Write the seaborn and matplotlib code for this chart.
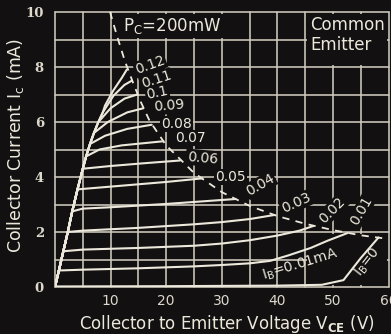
import matplotlib
matplotlib.use("Agg")
import matplotlib.pyplot as plt
import matplotlib.patches as mpatches
import numpy as np
import pandas as pd
import seaborn as sns

# ---------------------------------------------------------------- data
# Base current of each output curve (mA) and its printed tag
ib_values = [0.12, 0.11, 0.10, 0.09, 0.08, 0.07, 0.06, 0.05, 0.04, 0.03, 0.02, 0.01]
ib_tags = ["0.12", "0.11", "0.1", "0.09", "0.08", "0.07", "0.06", "0.05",
           "0.04", "0.03", "0.02", "0.01"]

# Saturation knee shared by all curves (VCE in V, IC in mA)
knee_v = [0, 0.7, 1.5, 2.3, 3.1, 4.05, 5.0, 5.6, 6.3, 7.0, 7.8, 8.6, 9.0]
knee_i = [0, 0.6, 1.3, 2.0, 2.75, 3.55, 4.3, 4.75, 5.2, 5.6, 6.0, 6.35, 6.6]

# VCE at which each curve leaves the knee
branch_v = [9.0, 8.6, 7.8, 7.0, 6.3, 5.6, 5.0, 4.05, 3.1, 2.3, 1.5, 0.7]

# Active-region part of each curve, ending on the dissipation line
ic012_v, ic012_i = [10.5, 12.0, 12.9], [7.15, 7.6, 7.9]
ic011_v, ic011_i = [10.5, 12.5, 13.8], [6.95, 7.35, 7.5]
ic010_v, ic010_i = [10.0, 12.5, 14.8], [6.5, 6.85, 7.0]
ic009_v, ic009_i = [9.5, 13.0, 15.9], [6.0, 6.35, 6.5]
ic008_v, ic008_i = [9.0, 13.0, 17.4], [5.5, 5.75, 5.9]
ic007_v, ic007_i = [8.0, 12.0, 19.5], [5.0, 5.15, 5.3]
ic006_v, ic006_i = [10.0, 16.0, 22.5], [4.4, 4.5, 4.6]
ic005_v, ic005_i = [10.0, 20.0, 26.5], [3.65, 3.82, 3.95]
ic004_v, ic004_i = [5.0, 10.0, 20.0, 32.5], [2.85, 2.9, 3.02, 3.2]
ic003_v, ic003_i = [5.0, 15.0, 25.0, 30.0, 35.0, 39.5], [2.05, 2.15, 2.28, 2.36, 2.47, 2.62]
ic002_v = [5.0, 15.0, 25.0, 30.0, 35.0, 40.0, 44.0, 46.5]
ic002_i = [1.36, 1.42, 1.5, 1.58, 1.7, 1.87, 2.05, 2.22]
ic001_v = [5.0, 15.0, 25.0, 30.0, 35.0, 38.7, 42.0, 46.0, 49.0, 52.6]
ic001_i = [0.63, 0.68, 0.75, 0.8, 0.86, 0.95, 1.15, 1.42, 1.68, 1.96]

# Leakage curve for IB = 0
ib0_v = [0, 20, 40, 48, 51.9, 55.0, 58.2]
ib0_i = [0.02, 0.03, 0.05, 0.08, 0.25, 1.05, 1.8]

# Maximum collector dissipation line
pc_v = [9.9, 11.2, 12.6, 14.0, 15.5, 17.0, 20.0, 25.0, 30.0, 35.0, 40.0, 45.0, 50.0, 55.0, 59.5]
pc_i = [10.0, 9.1, 8.2, 7.45, 6.7, 6.05, 5.15, 4.15, 3.45, 2.95, 2.58, 2.3, 2.07, 1.88, 1.76]

# Tag positions (V, mA) and angles
tag_v = [17.1, 18.2, 18.4, 20.5, 21.8, 24.3, 26.5, 31.5, 36.9, 43.4, 49.9, 55.1]
tag_i = [8.07, 7.53, 7.05, 6.58, 5.93, 5.42, 4.69, 4.0, 3.71, 3.05, 2.8, 2.76]
tag_rot = [20, 18, 12, 5, 0, 0, -5, 0, 30, 25, 45, 60]

x_ticks = [10, 20, 30, 40, 50, 60]
y_ticks = [0, 2, 4, 6, 8, 10]

# ---------------------------------------------------------------- frame
BG = "#121010"
GRID = "#cfcabd"
INK = "#ece8dc"

sns.set_style("dark")
plt.rcParams["font.family"] = ["DejaVu Sans"]
plt.rcParams["mathtext.default"] = "regular"

fig = plt.figure(figsize=(3.91, 3.34), dpi=100, facecolor=BG)
ax = fig.add_axes([55 / 391, 47 / 334, 333.5 / 391, 275 / 334])
ax.set_facecolor(BG)
ax.set_xlim(0, 60)
ax.set_ylim(0, 10)
for s in ax.spines.values():
    s.set_visible(False)
ax.grid(False)

# grid every 5 V and 1 mA
for v in np.arange(0, 61, 5):
    ax.axvline(v, color=GRID, lw=1.15, zorder=1, clip_on=False)
for i in np.arange(0, 11, 1):
    ax.axhline(i, color=GRID, lw=1.15, zorder=1, clip_on=False)

# label panels without grid inside
for (x0, y0, w, h) in [(45.3, 8.06, 14.4, 1.88), (45.3, 0.06, 14.4, 1.88),
                       (10.4, 9.06, 24.2, 0.88)]:
    ax.add_patch(mpatches.Rectangle((x0, y0), w, h, facecolor=BG,
                                    edgecolor="none", zorder=1.5))

# ---------------------------------------------------------------- curves
active = [(ic012_v, ic012_i), (ic011_v, ic011_i), (ic010_v, ic010_i),
          (ic009_v, ic009_i), (ic008_v, ic008_i), (ic007_v, ic007_i),
          (ic006_v, ic006_i), (ic005_v, ic005_i), (ic004_v, ic004_i),
          (ic003_v, ic003_i), (ic002_v, ic002_i), (ic001_v, ic001_i)]
rows = []
for tag, bv, (av, ai) in zip(ib_tags, branch_v, active):
    vs = [v for v in knee_v if v <= bv] + list(av)
    cs = [c for v, c in zip(knee_v, knee_i) if v <= bv] + list(ai)
    for k, (v, c) in enumerate(zip(vs, cs)):
        rows.append({"curve": tag, "order": k, "vce": v, "ic": c})
for k, (v, c) in enumerate(zip(ib0_v, ib0_i)):
    rows.append({"curve": "0", "order": k, "vce": v, "ic": c})
curves = pd.DataFrame(rows)

sns.lineplot(data=curves, x="vce", y="ic", units="curve", estimator=None,
             sort=False, color=INK, lw=1.5, ax=ax, zorder=3)

pc = pd.DataFrame({"vce": pc_v, "ic": pc_i})
sns.lineplot(data=pc, x="vce", y="ic", estimator=None, sort=False,
             color=INK, lw=1.3, linestyle=(0, (4, 3.5)), ax=ax, zorder=3)

# ---------------------------------------------------------------- text
box = dict(boxstyle="square,pad=0.08", fc=BG, ec="none")
for t, v, c, r in zip(ib_tags, tag_v, tag_i, tag_rot):
    ax.text(v, c, t, color=INK, fontsize=10, rotation=r, ha="center",
            va="center", rotation_mode="anchor", bbox=box, zorder=4)
ax.text(44.1, 0.8, "I$_B$=0.01mA", color=INK, fontsize=10, rotation=17,
        ha="center", va="center", rotation_mode="anchor", zorder=4)
ax.text(56.2, 0.9, "I$_B$=0", color=INK, fontsize=10, rotation=52,
        ha="center", va="center", rotation_mode="anchor", zorder=4)
ax.text(12.3, 9.49, "P$_C$=200mW", color=INK, fontsize=12, ha="left",
        va="center", zorder=4)
ax.text(45.9, 9.16, "Common\nEmitter", color=INK, fontsize=12, ha="left",
        va="center", linespacing=1.1, zorder=4)

ax.set_xticks(x_ticks)
ax.set_xticklabels([str(t) for t in x_ticks])
ax.set_yticks(y_ticks)
ax.set_yticklabels([str(t) for t in y_ticks])
ax.tick_params(axis="both", length=0, colors="#dcd8cc")
ax.tick_params(axis="x", pad=5, labelsize=10)
ax.tick_params(axis="y", pad=8, labelsize=9.5)
for lab in ax.get_yticklabels():
    lab.set_family("DejaVu Serif")
    lab.set_weight("bold")

ax.set_xlabel("Collector to Emitter Voltage V$_{\\mathbf{CE}}$ (V)",
              color=INK, fontsize=12)
ax.set_ylabel("Collector Current I$_c$ (mA)", color=INK, fontsize=12.5)
ax.xaxis.set_label_coords(0.515, -0.094)
ax.yaxis.set_label_coords(-0.088, 0.516)

fig.savefig("out.png", dpi=100, facecolor=BG)
